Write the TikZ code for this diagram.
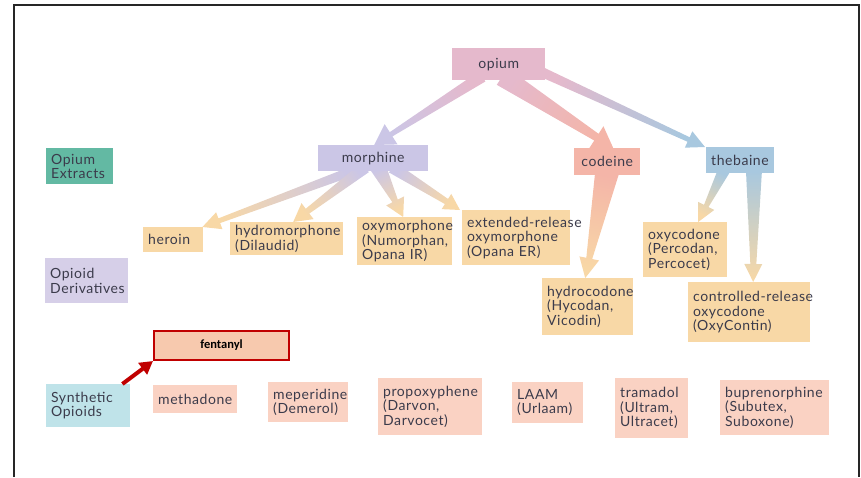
\documentclass[tikz,border=0pt]{standalone}
\usepackage{fontspec}
\setmainfont{Lato}[LetterSpace=4]
\newfontfamily\calib{Carlito}
\usetikzlibrary{calc,arrows.meta,backgrounds}
\definecolor{pinkO}{HTML}{E5B9CC}
\definecolor{lav}{HTML}{CBC6E6}
\definecolor{cod}{HTML}{F4B5A8}
\definecolor{theb}{HTML}{A8C8DF}
\definecolor{der}{HTML}{F8D8A6}
\definecolor{syn}{HTML}{FAD2C3}
\definecolor{ext}{HTML}{63B9A3}
\definecolor{oder}{HTML}{D6CFE8}
\definecolor{osyn}{HTML}{BFE3E9}
\definecolor{txt}{HTML}{3B3B4B}
\definecolor{fent}{HTML}{F7C9AE}
\definecolor{fentred}{HTML}{C00000}
\newcommand\taper[8]{%
  \coordinate (tS) at #1; \coordinate (tT) at #2;
  \path let \p1=($(tT)-(tS)$), \n1={atan2(\y1,\x1)-90} in \pgfextra{\xdef\tang{\n1}};
  \coordinate (tN) at ($(tT)!#6pt!(tS)$);
  \shade[bottom color=#7, top color=#8, shading angle=\tang]
    ($(tS)!#3pt!90:(tT)$) -- ($(tN)!#4pt!90:(tT)$) -- ($(tN)!#5pt!90:(tT)$) -- (tT)
    -- ($(tN)!#5pt!-90:(tT)$) -- ($(tN)!#4pt!-90:(tT)$) -- ($(tS)!#3pt!-90:(tT)$) -- cycle;
}
\begin{document}
\begin{tikzpicture}[x=1pt,y=-1pt,
  box/.style={rectangle, anchor=north west, inner xsep=5pt, inner ysep=0pt,
    font=\fontsize{14}{14.5}\selectfont, text=txt, align=left},
  cbox/.style={box, align=center},
  frame/.style={line width=2.5pt, draw=black!85}]
\useasboundingbox (0,0) rectangle (861,477);
\draw[frame] (14,477) -- (14,5) -- (859,5) -- (859,477);
% top level
\node[cbox, fill=pinkO, minimum width=93, minimum height=32] (opium) at (452,48) {opium};
\node[cbox, fill=lav, minimum width=110, minimum height=26] (morphine) at (318,145) {morphine};
\node[cbox, fill=cod, minimum width=66, minimum height=27] (codeine) at (574,148) {codeine};
\node[cbox, fill=theb, minimum width=64, minimum height=26] (thebaine) at (706,147) {thebaine};
% category labels
\node[box, fill=ext, text width=57, minimum height=36] (extracts) at (46,148) {Opium\\Extracts};
\node[box, fill=oder, text width=73, minimum height=45] (oderiv) at (45,258) {Opioid\\Derivatives};
\node[box, fill=osyn, text width=74, minimum height=43] (osynth) at (46,384) {Synthetic\\Opioids};
% derivatives
\node[box, fill=der, text width=50, minimum height=25] (heroin) at (143,227) {heroin};
\node[box, fill=der, text width=103, minimum height=33] (hydromorphone) at (230,222) {hydromorphone\\(Dilaudid)};
\node[box, fill=der, text width=85, minimum height=48] (oxymorphone) at (357,217) {oxymorphone\\(Numorphan,\\Opana IR)};
\node[box, fill=der, text width=98, minimum height=55] (extended) at (462,210) {\mbox{extended-release}\\oxymorphone\\(Opana ER)};
\node[box, fill=der, text width=81, minimum height=57] (hydrocodone) at (542,278) {hydrocodone\\(Hycodan,\\Vicodin)};
\node[box, fill=der, text width=74, minimum height=55] (oxycodone) at (643,222) {oxycodone\\(Percodan,\\Percocet)};
\node[box, fill=der, text width=112, minimum height=60] (controlled) at (688,282) {\mbox{controlled-release}\\oxycodone\\(OxyContin)};
% synthetics
\node[box, fill=syn, text width=74, minimum height=28] (methadone) at (153,385) {methadone};
\node[box, fill=syn, text width=70, minimum height=40] (meperidine) at (268,382) {meperidine\\(Demerol)};
\node[box, fill=syn, text width=94, minimum height=57] (propoxyphene) at (378,378) {propoxyphene\\(Darvon,\\Darvocet)};
\node[box, fill=syn, text width=61, minimum height=41] (laam) at (512,382) {LAAM\\(Urlaam)};
\node[box, fill=syn, text width=63, minimum height=60] (tramadol) at (615,378) {tramadol\\(Ultram,\\Ultracet)};
\node[box, fill=syn, text width=99, minimum height=55] (bupre) at (720,380) {buprenorphine\\(Subutex,\\Suboxone)};
% fentanyl
\node[rectangle, anchor=north west, fill=fent, draw=fentred, line width=2pt,
  minimum width=135, minimum height=29, font=\calib\bfseries\fontsize{12.5}{14}\selectfont] (fentanyl) at (153,330) {fentanyl};
\coordinate (fstart) at ($(osynth.north east)+(-8,0)$);
\draw[fentred, line width=4pt, -{Triangle[length=13pt,width=14pt]}] (fstart) -- (fentanyl.south west);
% tapered connectors
\begin{pgfonlayer}{background}
\taper{($(opium.south)+(-16.5,-4)$)}{($(morphine.north)+(1,0)$)}{6}{2.5}{12}{20}{pinkO}{lav}
\taper{($(opium.south)+(3.5,-4)$)}{($(codeine.north)+(6,0)$)}{10}{4}{13}{20}{pinkO}{cod}
\taper{($(opium.south)+(39.5,-10)$)}{($(thebaine.north)+(-35,0)$)}{5}{2.5}{9}{18}{pinkO}{theb}
\taper{($(morphine.south)+(-11,-4)$)}{($(heroin.north east)+(-1,0)$)}{5}{2.5}{9}{18}{lav}{der}
\taper{($(morphine.south)+(-8,-4)$)}{($(hydromorphone.north)+(6.5,0)$)}{6}{3}{10}{18}{lav}{der}
\taper{($(morphine.south)+(5,-4)$)}{($(oxymorphone.north)+(-1.5,0)$)}{8}{3}{10}{18}{lav}{der}
\taper{($(morphine.south)+(19,-4)$)}{($(extended.north west)+(-2,0)$)}{6}{3}{9}{16}{lav}{der}
\taper{($(codeine.south)+(0,-4)$)}{($(hydrocodone.north)+(-2.5,0)$)}{12}{3}{10}{20}{cod}{der}
\taper{($(thebaine.south)+(-16,-3)$)}{($(oxycodone.north)+(13,0)$)}{6}{2.5}{9}{18}{theb}{der}
\taper{($(thebaine.south)+(14,-3)$)}{($(controlled.north)+(4,0)$)}{8}{3}{9}{18}{theb}{der}
\end{pgfonlayer}
\end{tikzpicture}
\end{document}
